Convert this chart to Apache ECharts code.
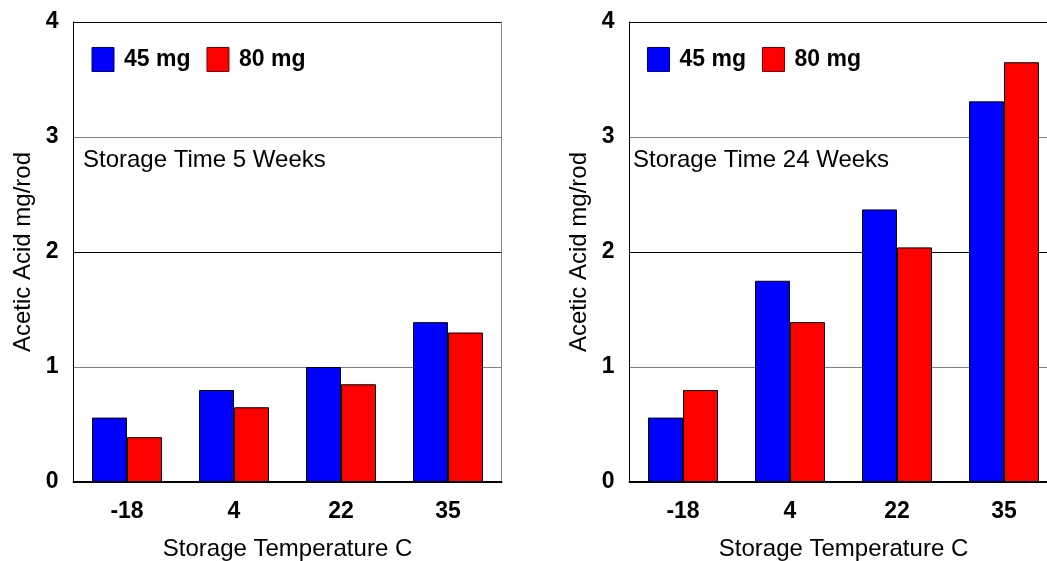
<!DOCTYPE html>
<html>
<head>
<meta charset="utf-8">
<script src="https://cdn.jsdelivr.net/npm/echarts@6/dist/echarts.min.js"></script>
<style>
html,body{margin:0;padding:0;background:#fff;}
#chart{width:1047px;height:561px;}
</style>
</head>
<body>
<div id="chart"></div>
<script>
const categories = ['-18', '4', '22', '35'];
const seriesNames = ['45 mg', '80 mg'];
const week5_45mg = [0.56, 0.80, 1.00, 1.39];
const week5_80mg = [0.39, 0.65, 0.85, 1.30];
const week24_45mg = [0.56, 1.75, 2.37, 3.31];
const week24_80mg = [0.80, 1.39, 2.04, 3.65];
const panelTitles = ['Storage Time 5 Weeks', 'Storage Time 24 Weeks'];
const xAxisTitle = 'Storage Temperature C';
const yAxisTitle = 'Acetic Acid mg/rod';

const FONT = 'Liberation Sans, Arial, Helvetica, sans-serif';
const BLUE = '#0000FF', RED = '#FF0000';

const chart = echarts.init(document.getElementById('chart'), null, {renderer: 'canvas'});

function xAxisFor(gi) {
  return {
    type: 'category', gridIndex: gi, data: categories,
    name: xAxisTitle, nameLocation: 'middle', nameGap: 55,
    nameTextStyle: {fontFamily: FONT, fontSize: 24, color: '#000'},
    axisLine: {show: true, lineStyle: {color: '#000', width: 2}},
    axisTick: {show: false},
    axisLabel: {fontFamily: FONT, fontSize: 23, fontWeight: 'bold', color: '#000', margin: 18},
    splitLine: {show: false}
  };
}
function yAxisLeft(gi) {
  return {
    type: 'value', gridIndex: gi, min: 0, max: 4, interval: 1, position: 'left',
    name: yAxisTitle, nameLocation: 'middle', nameGap: 38, nameRotate: 90,
    nameTextStyle: {fontFamily: FONT, fontSize: 24, color: '#000'},
    axisLine: {show: true, lineStyle: {color: '#000', width: 1}},
    axisTick: {show: false},
    axisLabel: {fontFamily: FONT, fontSize: 23, fontWeight: 'bold', color: '#000', margin: 15},
    splitLine: {show: true, lineStyle: {color: ['#000', '#808080', '#000', '#808080', '#000'], width: 1}}
  };
}
function yAxisRight(gi) {
  return {
    type: 'value', gridIndex: gi, min: 0, max: 4, interval: 1, position: 'right',
    axisLine: {show: true, lineStyle: {color: '#808080', width: 1}},
    axisTick: {show: false}, axisLabel: {show: false}, splitLine: {show: false}
  };
}
function legendFor(left) {
  return {
    left: left, top: 47, orient: 'horizontal', padding: 0,
    itemWidth: 22, itemHeight: 24, itemGap: 16,
    icon: 'rect',
    textStyle: {fontFamily: FONT, fontSize: 23, fontWeight: 'bold', color: '#000', padding: [0, 0, 0, 5]},
    data: [
      {name: seriesNames[0], itemStyle: {color: BLUE, borderColor: '#00007a', borderWidth: 1}},
      {name: seriesNames[1], itemStyle: {color: RED, borderColor: '#7a0000', borderWidth: 1}}
    ],
    selectedMode: false
  };
}
function bar(name, data, color, xi, yi) {
  return {
    type: 'bar', name: name, data: data, xAxisIndex: xi, yAxisIndex: yi,
    barWidth: 35, barGap: '0%',
    itemStyle: {color: color, borderColor: '#000', borderWidth: 1},
    emphasis: {disabled: true}, animation: false
  };
}

chart.setOption({
  backgroundColor: '#fff',
  animation: false,
  textStyle: {fontFamily: FONT},
  title: [
    {text: panelTitles[0], left: 83, top: 148, padding: 0,
     textStyle: {fontFamily: FONT, fontSize: 24, fontWeight: 'normal', color: '#000'}},
    {text: panelTitles[1], left: 633, top: 148, padding: 0,
     textStyle: {fontFamily: FONT, fontSize: 24, fontWeight: 'normal', color: '#000'}}
  ],
  legend: [legendFor(91.5), legendFor(647)],
  grid: [
    {left: 73.5, top: 22, width: 428, height: 460, outerBoundsMode: 'none', containLabel: false},
    {left: 629.5, top: 22, width: 428, height: 460, outerBoundsMode: 'none', containLabel: false}
  ],
  xAxis: [xAxisFor(0), xAxisFor(1)],
  yAxis: [yAxisLeft(0), yAxisRight(0), yAxisLeft(1), yAxisRight(1)],
  series: [
    bar(seriesNames[0], week5_45mg, BLUE, 0, 0),
    bar(seriesNames[1], week5_80mg, RED, 0, 0),
    bar(seriesNames[0], week24_45mg, BLUE, 1, 2),
    bar(seriesNames[1], week24_80mg, RED, 1, 2)
  ]
});
</script>
</body>
</html>
